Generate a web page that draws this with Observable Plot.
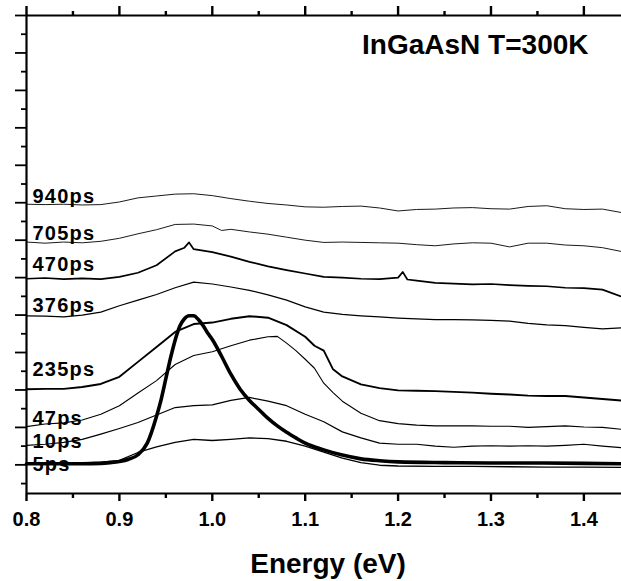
<!DOCTYPE html>
<html><head><meta charset="utf-8">
<script src="https://cdn.jsdelivr.net/npm/d3@7"></script>
<script src="https://cdn.jsdelivr.net/npm/@observablehq/plot@0.6"></script>
<style>body{margin:0;background:#fff}</style>
</head><body><div id="chart"></div>
<script>
// Energy (eV) / offset intensity (arb. units) pairs
const s940 = [[0.80,7.96],[0.82,7.95],[0.84,7.96],[0.86,7.94],[0.88,7.95],[0.90,8.02],[0.92,8.13],[0.94,8.18],[0.96,8.23],[0.98,8.24],[1.00,8.19],[1.02,8.11],[1.04,8.04],[1.06,7.98],[1.08,7.94],[1.10,7.89],[1.12,7.88],[1.14,7.90],[1.16,7.91],[1.18,7.86],[1.20,7.78],[1.22,7.82],[1.24,7.83],[1.26,7.86],[1.28,7.87],[1.30,7.84],[1.32,7.83],[1.34,7.90],[1.36,7.92],[1.38,7.84],[1.40,7.82],[1.42,7.83],[1.44,7.74]];
const s705 = [[0.80,6.95],[0.82,6.92],[0.84,6.95],[0.86,6.93],[0.88,6.97],[0.90,7.05],[0.92,7.17],[0.94,7.28],[0.96,7.42],[0.98,7.43],[1.00,7.38],[1.01,7.26],[1.02,7.29],[1.04,7.22],[1.06,7.16],[1.08,7.08],[1.10,7.00],[1.12,6.94],[1.14,6.95],[1.16,6.94],[1.18,6.93],[1.20,6.92],[1.22,6.88],[1.24,6.85],[1.26,6.90],[1.28,6.93],[1.30,6.92],[1.32,6.82],[1.34,6.92],[1.36,6.92],[1.38,6.87],[1.40,6.85],[1.42,6.80],[1.44,6.70]];
const s470 = [[0.80,5.97],[0.82,5.99],[0.84,5.96],[0.86,5.98],[0.88,5.96],[0.90,6.02],[0.92,6.13],[0.94,6.33],[0.96,6.70],[0.97,6.80],[0.975,6.94],[0.98,6.76],[1.00,6.68],[1.02,6.56],[1.04,6.42],[1.06,6.30],[1.08,6.20],[1.10,6.11],[1.12,6.02],[1.14,6.00],[1.16,5.97],[1.18,5.96],[1.20,6.00],[1.205,6.15],[1.21,5.95],[1.22,5.92],[1.24,5.86],[1.26,5.84],[1.28,5.82],[1.30,5.83],[1.32,5.80],[1.34,5.78],[1.36,5.77],[1.38,5.73],[1.40,5.72],[1.42,5.68],[1.44,5.50]];
const s376 = [[0.80,4.98],[0.82,4.97],[0.84,4.95],[0.86,5.00],[0.88,5.08],[0.90,5.25],[0.92,5.40],[0.94,5.55],[0.96,5.73],[0.98,5.88],[1.00,5.83],[1.02,5.75],[1.04,5.66],[1.06,5.54],[1.08,5.40],[1.10,5.22],[1.12,5.08],[1.14,5.02],[1.16,4.98],[1.18,4.95],[1.20,4.92],[1.22,4.90],[1.24,4.88],[1.26,4.88],[1.28,4.87],[1.30,4.86],[1.32,4.84],[1.34,4.78],[1.36,4.74],[1.38,4.72],[1.40,4.67],[1.42,4.63],[1.44,4.66]];
const s235 = [[0.80,3.02],[0.82,3.03],[0.84,3.03],[0.86,3.08],[0.88,3.16],[0.90,3.35],[0.92,3.75],[0.94,4.15],[0.96,4.55],[0.98,4.76],[1.00,4.80],[1.02,4.90],[1.04,4.97],[1.06,4.93],[1.08,4.73],[1.10,4.42],[1.11,4.18],[1.12,4.05],[1.13,3.55],[1.14,3.36],[1.16,3.15],[1.18,3.05],[1.20,2.99],[1.22,2.98],[1.24,2.97],[1.26,2.95],[1.28,2.93],[1.30,2.90],[1.32,2.88],[1.34,2.85],[1.36,2.84],[1.38,2.84],[1.40,2.80],[1.42,2.76],[1.44,2.72]];
const s47 = [[0.80,2.02],[0.82,2.09],[0.84,2.12],[0.86,2.20],[0.88,2.35],[0.90,2.58],[0.92,2.92],[0.94,3.25],[0.96,3.68],[0.98,3.92],[1.00,4.02],[1.02,4.18],[1.04,4.33],[1.06,4.42],[1.07,4.43],[1.08,4.25],[1.09,4.05],[1.10,3.82],[1.11,3.58],[1.12,3.18],[1.13,2.93],[1.14,2.70],[1.16,2.38],[1.18,2.18],[1.20,2.10],[1.22,2.06],[1.24,2.04],[1.26,2.04],[1.28,2.04],[1.30,2.03],[1.32,2.03],[1.34,2.00],[1.36,2.02],[1.38,2.04],[1.40,2.01],[1.42,2.00],[1.44,1.95]];
const s10 = [[0.80,1.52],[0.82,1.55],[0.84,1.60],[0.86,1.68],[0.88,1.82],[0.90,1.97],[0.92,2.13],[0.94,2.33],[0.96,2.53],[0.98,2.58],[1.00,2.60],[1.02,2.72],[1.04,2.80],[1.06,2.70],[1.08,2.58],[1.10,2.35],[1.12,2.15],[1.14,1.88],[1.16,1.72],[1.18,1.58],[1.20,1.55],[1.22,1.55],[1.24,1.50],[1.26,1.47],[1.28,1.50],[1.30,1.51],[1.32,1.50],[1.34,1.51],[1.36,1.50],[1.38,1.52],[1.40,1.55],[1.42,1.50],[1.44,1.46]];
const s5 = [[0.80,1.03],[0.84,1.04],[0.86,1.05],[0.88,1.07],[0.90,1.12],[0.92,1.33],[0.94,1.48],[0.96,1.60],[0.98,1.68],[1.00,1.65],[1.02,1.68],[1.04,1.72],[1.06,1.70],[1.08,1.63],[1.10,1.50],[1.12,1.34],[1.14,1.18],[1.16,1.06],[1.18,0.99],[1.20,0.97],[1.24,0.96],[1.28,0.96],[1.32,0.95],[1.36,0.94],[1.40,0.94],[1.44,0.93]];
const sPL = [[0.80,1.03],[0.84,1.03],[0.86,1.03],[0.88,1.04],[0.89,1.06],[0.90,1.09],[0.91,1.15],[0.92,1.27],[0.93,1.58],[0.94,2.30],[0.945,2.75],[0.95,3.30],[0.955,3.85],[0.96,4.33],[0.965,4.70],[0.97,4.90],[0.975,4.98],[0.98,4.98],[0.985,4.88],[0.99,4.72],[0.995,4.52],[1.00,4.35],[1.01,3.90],[1.02,3.42],[1.03,3.02],[1.04,2.72],[1.05,2.48],[1.06,2.24],[1.07,2.04],[1.08,1.87],[1.09,1.72],[1.10,1.58],[1.12,1.40],[1.14,1.26],[1.16,1.16],[1.18,1.11],[1.20,1.08],[1.25,1.06],[1.30,1.05],[1.35,1.05],[1.40,1.04],[1.44,1.03]];

const seriesNames = ["940ps","705ps","470ps","376ps","235ps","47ps","10ps","5ps"];
const seriesValues = [s940, s705, s470, s376, s235, s47, s10, s5];
const xMajor = [0.8, 0.9, 1.0, 1.1, 1.2, 1.3, 1.4];
const xMinor = [0.85, 0.95, 1.05, 1.15, 1.25, 1.35];
const yMajor = [1,2,3,4,5,6,7,8,9,10,11,12,13];
const yMinor = [0.5,1.5,2.5,3.5,4.5,5.5,6.5,7.5,8.5,9.5,10.5,11.5,12.5];
const titleText = "InGaAsN T=300K";
const xLabelText = "Energy (eV)";

// layout and styling (not data)
const W = 621, H = 581, MT = 15, MB = 88, ML = 26;
const lineWidths = [0.9, 0.9, 1.7, 1.2, 1.9, 1.1, 1.2, 1.3];
const labelY = [8.0, 7.0, 6.17, 5.09, 3.38, 2.07, 1.44, 0.83];
const yBottom = 0.235, yTop = 13;

const font = "'Liberation Sans', Arial, Helvetica, sans-serif";
const lineMarks = seriesValues.map((s, i) =>
  Plot.line(s.map(([e, v]) => ({e, v})), {x: "e", y: "v", stroke: "#000", strokeWidth: lineWidths[i], strokeLinejoin: "round"})
);
const labelRows = seriesNames.map((t, i) => ({t, y: labelY[i]}));

const chart = Plot.plot({
  width: W, height: H,
  marginTop: MT, marginLeft: ML, marginRight: 0, marginBottom: MB,
  style: {fontFamily: font, background: "#fff", color: "#000", overflow: "visible"},
  x: {domain: [0.8, 1.4405]},
  y: {domain: [yBottom, yTop]},
  marks: [
    ...lineMarks,
    Plot.line(sPL.map(([e, v]) => ({e, v})), {x: "e", y: "v", stroke: "#000", strokeWidth: 3.6, curve: "monotone-x"}),
    Plot.ruleX([0.8], {strokeWidth: 2.2}),
    Plot.ruleY([yBottom], {strokeWidth: 2.2}),
    Plot.ruleY([yTop], {strokeWidth: 2.2}),
    Plot.axisY({anchor: "left", ticks: yMajor, tickSize: 11, fill: "none", label: null, strokeWidth: 1.8}),
    Plot.axisY({anchor: "left", ticks: yMinor, tickSize: 5, fill: "none", label: null, strokeWidth: 1.8}),
    Plot.axisX({anchor: "top", ticks: xMajor, tickSize: 10, fill: "none", label: null, strokeWidth: 2.4}),
    Plot.axisX({anchor: "top", ticks: xMinor, tickSize: 5, fill: "none", label: null, strokeWidth: 2.4}),
    Plot.axisX({anchor: "bottom", ticks: xMinor, tickSize: 5, fill: "none", label: null, strokeWidth: 2.4}),
    Plot.axisX({anchor: "bottom", ticks: xMajor, tickSize: 8, tickPadding: 10, tickFormat: d3.format(".1f"), fontSize: 20, fontWeight: "bold", label: null, strokeWidth: 2.4}),
    Plot.text(labelRows, {x: () => 0.8, y: "y", text: "t", dx: 6, textAnchor: "start", lineAnchor: "bottom", fontSize: 20, fontWeight: "bold", fill: "#000"}),
    Plot.text([titleText], {frameAnchor: "top-right", dx: -33, dy: 19, textAnchor: "end", lineAnchor: "top", fontSize: 28, fontWeight: "bold", fill: "#000"}),
    Plot.text([xLabelText], {frameAnchor: "bottom", dx: 4, dy: 79, lineAnchor: "bottom", fontSize: 28, fontWeight: "bold", fill: "#000"})
  ]
});
d3.select(chart).selectAll("text")
  .filter(function () { return seriesNames.includes(this.textContent); })
  .attr("letter-spacing", "1.2");
document.getElementById("chart").appendChild(chart);
</script>
</body></html>
